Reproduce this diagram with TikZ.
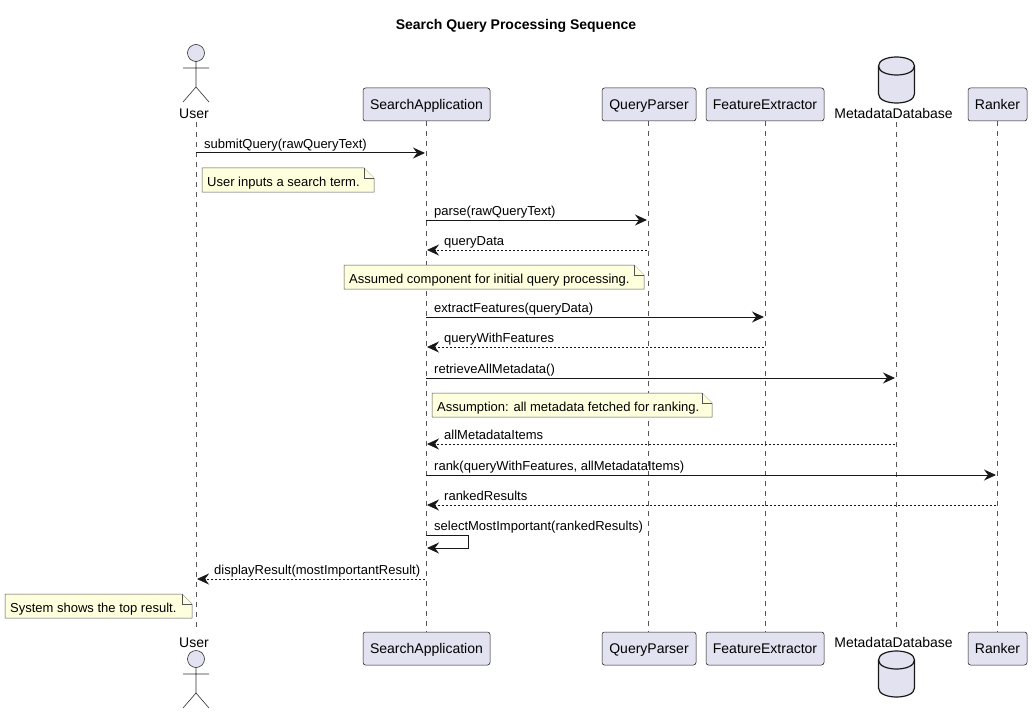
\documentclass[tikz,border=0pt]{standalone}
\usepackage{fontspec}
\setmainfont{Liberation Sans}
\usetikzlibrary{arrows.meta,calc,shapes.geometric}
\definecolor{partfill}{HTML}{E2E2F0}
\definecolor{partline}{HTML}{181818}
\definecolor{notefill}{HTML}{FEFFDD}
\definecolor{lifecol}{HTML}{555555}
\tikzset{
  x=1pt,y=-1pt,
  part/.style={draw=partline,fill=partfill,line width=.5pt,rounded corners=2.5pt,minimum height=33pt,inner sep=0pt,font=\fontsize{14}{16}\selectfont,anchor=center,text height=12pt,text depth=1.5pt},
  lifeline/.style={draw=lifecol,line width=.5pt,dash pattern=on 5pt off 5pt},
  tip/.style={-{Stealth[length=12pt,width=11pt,inset=4pt]}},
  msgline/.style={tip,draw=partline,line width=1pt},
  replyline/.style={tip,draw=partline,line width=.8pt,dash pattern=on 2pt off 2pt},
  msgtext/.style={font=\fontsize{13}{15}\selectfont,anchor=base west,inner sep=0pt,text=black},
  notebox/.style={draw=partline!75,fill=notefill,line width=.5pt},
  notetext/.style={font=\fontsize{13}{15}\selectfont,anchor=base west,inner sep=0pt,text=black},
  actorline/.style={draw=partline!90,line width=.6pt},
  actorname/.style={font=\fontsize{14}{16}\selectfont,inner sep=0pt,anchor=base},
  dbshape/.style={draw=partline,fill=partfill,line width=1.2pt},
}
% lifeline-to-lifeline message: name, from, to, y, x of label, label
\newcommand{\solidmsg}[6]{%
  \coordinate (#1a) at ($(#2 |- 0,#4)$);
  \coordinate (#1b) at ($(#3 |- 0,#4)+(-1,0)$);
  \draw[msgline] (#1a) -- (#1b);
  \node[msgtext] (#1t) at (#5,#4-4.5) {#6};}
\newcommand{\replymsg}[6]{%
  \coordinate (#1a) at ($(#2 |- 0,#4)+(-1,0)$);
  \coordinate (#1b) at ($(#3 |- 0,#4)+(1,0)$);
  \draw[replyline] (#1a) -- (#1b);
  \node[msgtext] (#1t) at (#5,#4-4.5) {#6};}
% note: name, x1, y1, x2, y2, text
\newcommand{\notefold}[6]{%
  \draw[notebox] (#2,#3) -- (#4-10,#3) -- (#4,#3+10) -- (#4,#5) -- (#2,#5) -- cycle;
  \draw[notebox] (#4-10,#3) -- (#4-10,#3+10) -- (#4,#3+10);
  \node[notetext] (#1) at (#2+5,#3+18) {#6};}
% actor figure
\newcommand{\actorfig}[2]{%
  \draw[actorline,fill=partfill] (#1,#2) circle (8.5);
  \draw[actorline] (#1,#2+8.5) -- (#1,#2+34) (#1-13,#2+15) -- (#1+13,#2+15)
     (#1-13,#2+49) -- (#1,#2+34) -- (#1+13,#2+49);}
% database figure: x centre, y top
\newcommand{\dbfig}[2]{%
  \draw[dbshape] (#1-18,#2+9) .. controls (#1-18,#2-3) and (#1+18,#2-3) .. (#1+18,#2+9)
    -- (#1+18,#2+37) .. controls (#1+18,#2+49) and (#1-18,#2+49) .. (#1-18,#2+37) -- cycle;
  \draw[dbshape,fill=none] (#1-18,#2+9) .. controls (#1-18,#2+21) and (#1+18,#2+21) .. (#1+18,#2+9);}
\begin{document}
\begin{tikzpicture}
\useasboundingbox (0,0) rectangle (1032,714);
\node[font=\bfseries\fontsize{14}{16}\selectfont,inner sep=0pt,anchor=base] (title) at (516,30) {Search Query Processing Sequence};

% anchors of lifelines
\coordinate (uT) at (196,122); \coordinate (uB) at (196,632);
\coordinate (dT) at (896,122); \coordinate (dB) at (896,632);

% participants
\node[part,minimum width=127pt] (sT) at (426.5,104.5) {SearchApplication};
\node[part,minimum width=94pt]  (qT) at (649,104.5) {QueryParser};
\node[part,minimum width=118pt] (fT) at (765,104.5) {FeatureExtractor};
\node[part,minimum width=59pt]  (rT) at (997.5,104.5) {Ranker};
\node[part,minimum width=127pt] (sB) at (426.5,648.5) {SearchApplication};
\node[part,minimum width=94pt]  (qB) at (649,648.5) {QueryParser};
\node[part,minimum width=118pt] (fB) at (765,648.5) {FeatureExtractor};
\node[part,minimum width=59pt]  (rB) at (997.5,648.5) {Ranker};

% lifelines
\draw[lifeline] (uT) -- (uB);
\draw[lifeline] (sT.south -| 426,0) -- (sB.north -| 426,0);
\draw[lifeline] (qT.south -| 648,0) -- (qB.north -| 648,0);
\draw[lifeline] (fT.south) -- (fB.north);
\draw[lifeline] (dT) -- (dB);
\draw[lifeline] (rT.south -| 997,0) -- (rB.north -| 997,0);
\coordinate (sL) at (426,0); \coordinate (qL) at (648,0); \coordinate (fL) at (765,0);
\coordinate (dL) at (896,0); \coordinate (rL) at (997,0); \coordinate (uL) at (196,0);

% actors and databases
\actorfig{196}{53}
\node[actorname] (uName) at (194,118.5) {User};
\actorfig{196}{659}
\node[actorname] (uNameB) at (194,647) {User};
\dbfig{896.5}{57}
\node[actorname] (dName) at (893.5,118.5) {MetadataDatabase};
\dbfig{896.5}{651}
\node[actorname] (dNameB) at (893.5,647) {MetadataDatabase};

% messages
\solidmsg{m1}{uL}{sL}{153}{204}{submitQuery(rawQueryText)}
\notefold{n1}{202}{168}{374}{192}{User inputs a search term.}
\solidmsg{m2}{sL}{qL}{220}{434}{parse(rawQueryText)}
\replymsg{m3}{qL}{sL}{250}{444}{queryData}
\notefold{n2}{344}{265}{644}{289}{Assumed component for initial query processing.}
\solidmsg{m4}{sL}{fL}{317}{434}{extractFeatures(queryData)}
\replymsg{m5}{fL}{sL}{347}{444}{queryWithFeatures}
\solidmsg{m6}{sL}{dL}{378}{434}{retrieveAllMetadata()}
\notefold{n3}{432}{393}{712}{417}{Assumption: all metadata fetched for ranking.}
\replymsg{m7}{dL}{sL}{444}{444}{allMetadataItems}
\solidmsg{m8}{sL}{rL}{475}{434}{rank(queryWithFeatures, allMetadataItems)}
\replymsg{m9}{rL}{sL}{505}{444}{rankedResults}
% self message
\coordinate (m10a) at (sL |- 0,535);
\coordinate (m10c) at ($(m10a)+(42.5,0)$);
\coordinate (m10d) at ($(m10a)+(42.5,13)$);
\coordinate (m10b) at ($(m10a)+(1,13)$);
\draw[msgline] (m10a) -- (m10c) -- (m10d) -- (m10b);
\node[msgtext] (m10t) at (434,530.5) {selectMostImportant(rankedResults)};
\replymsg{m11}{sL}{uL}{579}{214}{displayResult(mostImportantResult)}
\notefold{n4}{5}{594}{192}{618}{System shows the top result.}
\end{tikzpicture}
\end{document}
